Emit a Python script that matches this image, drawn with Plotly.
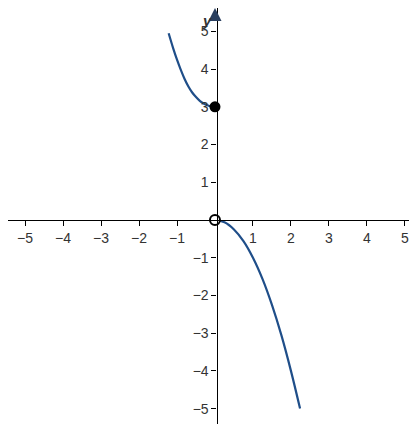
import plotly.graph_objects as go

left_x = [-1.22, -1.1, -1.0, -0.9, -0.8, -0.7, -0.6, -0.5, -0.4, -0.3, -0.2, -0.1, 0.0]
left_y = [4.95, 4.55, 4.25, 3.98, 3.74, 3.54, 3.38, 3.26, 3.16, 3.09, 3.04, 3.01, 3.0]
right_x = [0.0, 0.25, 0.5, 0.75, 1.0, 1.25, 1.5, 1.75, 2.0, 2.24]
right_y = [0.0, -0.06, -0.25, -0.56, -1.0, -1.56, -2.25, -3.06, -4.0, -5.0]
filled_pt = (0, 3)
open_pt = (0, 0)
ticks = [-5, -4, -3, -2, -1, 1, 2, 3, 4, 5]
tick_text = ["\u2212" + str(-t) if t < 0 else str(t) for t in ticks]

col = "#1f4e89"
fig = go.Figure()
fig.add_trace(go.Scatter(x=left_x, y=left_y, mode="lines", line=dict(color=col, width=2.2, shape="spline")))
fig.add_trace(go.Scatter(x=right_x, y=right_y, mode="lines", line=dict(color=col, width=2.2, shape="spline")))
fig.add_trace(go.Scatter(x=[filled_pt[0]], y=[filled_pt[1]], mode="markers",
                         marker=dict(color="black", size=11)))
fig.add_trace(go.Scatter(x=[open_pt[0]], y=[open_pt[1]], mode="markers",
                         marker=dict(color="white", size=10, line=dict(color="black", width=2))))

ax = dict(showgrid=False, zeroline=False, showline=True, linecolor="black", linewidth=1.2,
          ticks="outside", ticklen=5, tickcolor="black", tickvals=ticks, ticktext=tick_text,
          tickfont=dict(family="Liberation Sans, Arial", size=14, color="#333"),
          anchor="free", position=0.5, fixedrange=True, automargin=False)
fig.update_layout(
    width=417, height=424, margin=dict(l=0, r=0, t=0, b=0),
    plot_bgcolor="white", paper_bgcolor="white", showlegend=False,
    xaxis=dict(ax, range=[-5.45, 5.53]),
    yaxis=dict(ax, range=[-5.62, 5.62]),
)
fig.add_annotation(x=5.53, y=0, ax=5.15, ay=0, xref="x", yref="y", axref="x", ayref="y",
                   showarrow=True, arrowhead=2, arrowsize=2, arrowwidth=1.3, text="")
fig.add_annotation(x=0, y=5.62, ax=0, ay=5.25, xref="x", yref="y", axref="x", ayref="y",
                   showarrow=True, arrowhead=2, arrowsize=2, arrowwidth=1.3, text="")
fig.add_annotation(x=5.28, y=-0.38, text="<i><b>x</b></i>", showarrow=False,
                   font=dict(family="Liberation Sans", size=15, color="#333"))
fig.add_annotation(x=-0.22, y=5.3, text="<i><b>y</b></i>", showarrow=False,
                   font=dict(family="Liberation Sans", size=15, color="#333"))
fig.write_html("out.html")
